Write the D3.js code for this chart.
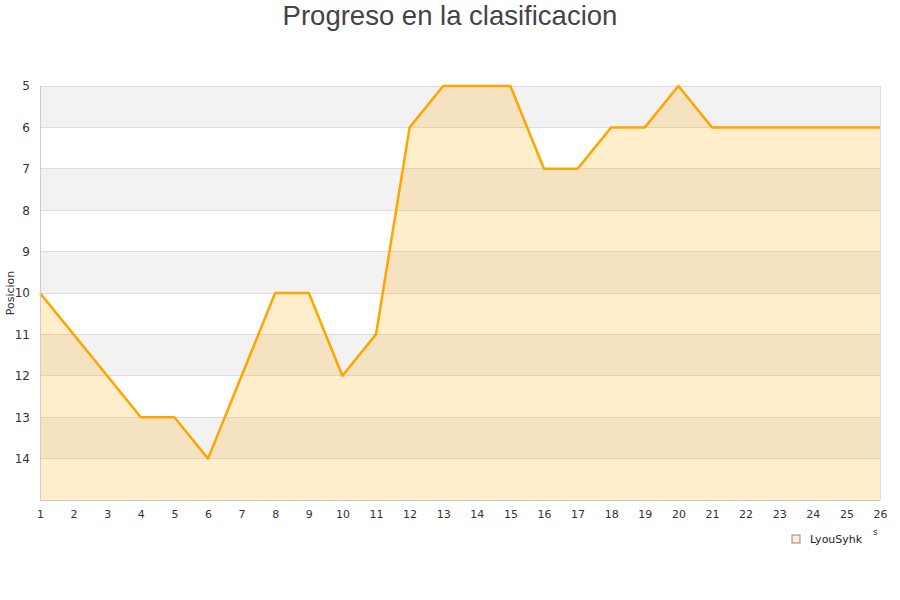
<!DOCTYPE html>
<html><head><meta charset="utf-8">
<script src="https://cdn.jsdelivr.net/npm/d3@7"></script>
<style>body{margin:0;background:#fff}</style>
</head><body>
<svg id="c" width="900" height="600"></svg>
<script>
const jornadas = [1,2,3,4,5,6,7,8,9,10,11,12,13,14,15,16,17,18,19,20,21,22,23,24,25,26];
const posiciones = [10,11,12,13,13,14,12,10,10,12,11,6,5,5,5,7,7,6,6,5,6,6,6,6,6,6];
const yTicks = [5,6,7,8,9,10,11,12,13,14];
const serieNombre = "LyouSyhk";
const titulo = "Progreso en la clasificacion";
const ejeY = "Posicion";

const svg = d3.select("#c");
const m = {l:40, r:880, t:86, b:500};
const x = d3.scaleLinear().domain([1,26]).range([m.l, m.r]);
const y = d3.scaleLinear().domain([5,15]).range([m.t, m.b]);

const bands = d3.range(5,15);
svg.selectAll("rect.band").data(bands).enter().append("rect")
  .attr("x", m.l).attr("width", m.r-m.l)
  .attr("y", d=>y(d)).attr("height", d=>y(d+1)-y(d))
  .attr("fill", (d,i)=> i%2===0 ? "#f2f2f2" : "#ffffff");
svg.selectAll("line.grid").data(d3.range(5,16)).enter().append("line")
  .attr("x1", m.l).attr("x2", m.r).attr("y1", d=>y(d)).attr("y2", d=>y(d))
  .attr("stroke", "#dddddd").attr("stroke-width",1).attr("shape-rendering","crispEdges");
svg.append("line").attr("x1", m.r).attr("x2", m.r).attr("y1", m.t).attr("y2", m.b)
  .attr("stroke","#dddddd").attr("shape-rendering","crispEdges");

const data = jornadas.map((j,i)=>({j, p:posiciones[i]}));
svg.append("path").datum(data)
  .attr("d", d3.area().x(d=>x(d.j)).y0(m.b).y1(d=>y(d.p)))
  .attr("fill", "#ffa500").attr("fill-opacity", 0.2);
svg.append("path").datum(data)
  .attr("d", d3.line().x(d=>x(d.j)).y(d=>y(d.p)))
  .attr("fill","none").attr("stroke","#ffa500").attr("stroke-width",2.5).attr("stroke-linejoin","round");

svg.append("line").attr("x1", m.l).attr("x2", m.l).attr("y1", m.t).attr("y2", m.b)
  .attr("stroke","#cccccc").attr("shape-rendering","crispEdges");
svg.append("line").attr("x1", m.l).attr("x2", m.r).attr("y1", m.b).attr("y2", m.b)
  .attr("stroke","#cccccc").attr("shape-rendering","crispEdges");

const font = "'DejaVu Sans', sans-serif";
const xAxis = d3.axisBottom(x).tickValues(jornadas).tickSize(0).tickPadding(10).tickFormat(d3.format("d"));
const gx = svg.append("g").attr("transform", `translate(0,${m.b})`).call(xAxis);
gx.select(".domain").remove();
gx.selectAll("text").attr("font-family", font).attr("font-size", 11).attr("fill", "#333");

const yAxis = d3.axisLeft(y).tickValues(yTicks).tickSize(0).tickPadding(10).tickFormat(d3.format("d"));
const gy = svg.append("g").attr("transform", `translate(${m.l},0)`).call(yAxis);
gy.select(".domain").remove();
gy.selectAll("text").attr("font-family", font).attr("font-size", 12).attr("fill", "#333");

svg.append("text").attr("transform", `translate(14,${(m.t+m.b)/2}) rotate(-90)`)
  .attr("text-anchor","middle").attr("font-family", font).attr("font-size", 11).attr("fill","#333").text(ejeY);

svg.append("text").attr("x", 450).attr("y", 25).attr("text-anchor","middle")
  .attr("font-family","'Liberation Sans', Arial, sans-serif").attr("font-size", 27.5).attr("fill","#444").text(titulo);

svg.append("text").attr("x", 873).attr("y", 535).attr("font-family", font).attr("font-size", 9).attr("fill","#333").text("s");

svg.append("rect").attr("x", 792).attr("y", 535).attr("width", 8).attr("height", 8)
  .attr("fill","#ffedcc").attr("stroke","#888").attr("stroke-width",1);
svg.append("text").attr("x", 810).attr("y", 543).attr("font-family", font).attr("font-size", 11).attr("fill","#222").text(serieNombre);
</script>
</body></html>
